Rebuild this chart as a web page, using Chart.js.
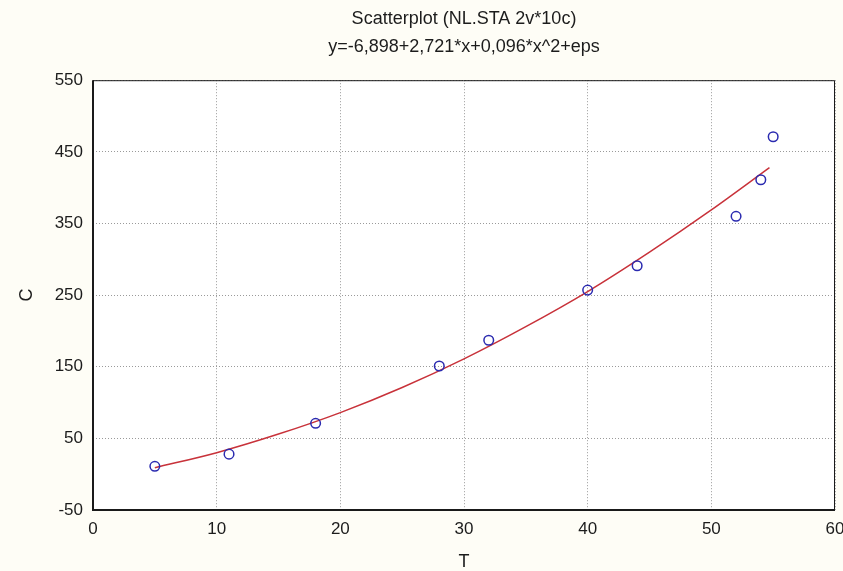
<!DOCTYPE html>
<html>
<head>
<meta charset="utf-8">
<script src="https://cdn.jsdelivr.net/npm/chart.js@4/dist/chart.umd.min.js"></script>
<style>
  html, body { margin: 0; padding: 0; background: #fefdf6; }
  #wrap { width: 843px; height: 571px; }
</style>
</head>
<body>
<div id="wrap"><canvas id="chart1" width="843" height="571"></canvas></div>
<script>
// donnees
const tValues = [5, 11, 18, 28, 32, 40, 44, 52, 54, 55];
const cValues = [11, 28, 71, 151, 187, 257, 291, 360, 411, 471];

// courbe ajustee
const fitT = [5, 10, 15, 20, 25, 30, 35, 40, 45, 50, 54.7];
const fitC = [9, 30, 56, 86, 121, 161, 206, 255, 310, 369, 428];

const xTicks = [0, 10, 20, 30, 40, 50, 60];
const yTicks = [-50, 50, 150, 250, 350, 450, 550];

const titleText = 'Scatterplot (NL.STA 2v*10c)';
const subtitleText = 'y=-6,898+2,721*x+0,096*x^2+eps';

function toPoints(xs, ys) {
  let data = [];
  for (let i = 0; i < xs.length; i++) {
    data.push({ x: xs[i], y: ys[i] });
  }
  return data;
}

const fontFamily = '"Liberation Sans", Arial, sans-serif';
const textColor = '#1c1c1c';

// fond creme + zone blanche + cadre
const framePlugin = {
  id: 'frame',
  beforeDraw(chart) {
    const ctx = chart.ctx;
    const a = chart.chartArea;
    ctx.save();
    ctx.fillStyle = '#fefdf6';
    ctx.fillRect(0, 0, chart.width, chart.height);
    ctx.fillStyle = '#ffffff';
    ctx.fillRect(a.left, a.top, a.right - a.left, a.bottom - a.top);
    ctx.restore();
  },
  afterDraw(chart) {
    const ctx = chart.ctx;
    const a = chart.chartArea;
    ctx.save();
    ctx.setLineDash([]);
    ctx.strokeStyle = '#1a1a1a';
    ctx.lineWidth = 1;
    ctx.beginPath();
    ctx.moveTo(a.left, a.top + 0.5);
    ctx.lineTo(a.right - 0.5, a.top + 0.5);
    ctx.lineTo(a.right - 0.5, a.bottom);
    ctx.stroke();
    ctx.lineWidth = 2;
    ctx.beginPath();
    ctx.moveTo(a.left, a.top);
    ctx.lineTo(a.left, a.bottom);
    ctx.lineTo(a.right, a.bottom);
    ctx.stroke();
    ctx.restore();
  }
};

let canvas1 = document.getElementById('chart1');

let myChart1 = new Chart(canvas1, {
  type: 'scatter',
  data: {
    datasets: [{
      label: 'C',
      data: toPoints(tValues, cValues),
      showLine: false,
      pointRadius: 4.8,
      pointBorderWidth: 1.5,
      pointBorderColor: '#2b2bb0',
      pointBackgroundColor: 'rgba(0,0,0,0)',
      order: 1
    }, {
      label: 'fit',
      data: toPoints(fitT, fitC),
      showLine: true,
      borderColor: '#c8323a',
      borderWidth: 1.5,
      pointRadius: 0,
      cubicInterpolationMode: 'monotone',
      fill: false,
      order: 2
    }]
  },
  options: {
    responsive: false,
    animation: false,
    events: [],
    layout: { padding: { left: 0, right: 0, top: 0, bottom: 0 } },
    plugins: {
      legend: { display: false },
      tooltip: { enabled: false },
      title: {
        display: true,
        fullSize: false,
        text: titleText,
        color: textColor,
        font: { family: fontFamily, size: 18, weight: 'normal', lineHeight: 1.2 },
        padding: { top: 8, bottom: 7 }
      },
      subtitle: {
        display: true,
        fullSize: false,
        text: subtitleText,
        color: textColor,
        font: { family: fontFamily, size: 18, weight: 'normal', lineHeight: 1.2 },
        padding: { top: 0, bottom: 22 }
      }
    },
    scales: {
      x: {
        type: 'linear',
        min: 0,
        max: 60,
        afterBuildTicks(scale) {
          scale.ticks = xTicks.map(v => ({ value: v }));
        },
        afterFit(scale) {
          scale.height = 61;
          scale.paddingRight = 8;
          scale.paddingLeft = 0;
        },
        ticks: {
          color: textColor,
          padding: 9,
          maxRotation: 0,
          font: { family: fontFamily, size: 17 }
        },
        grid: { color: '#9a9a9a', lineWidth: 1, drawTicks: false },
        border: { display: false, dash: [1, 2] },
        title: {
          display: true,
          text: 'T',
          color: textColor,
          font: { family: fontFamily, size: 18, lineHeight: 1 },
          padding: { top: 0, bottom: 0 }
        }
      },
      y: {
        type: 'linear',
        min: -50,
        max: 550,
        afterBuildTicks(scale) {
          scale.ticks = yTicks.map(v => ({ value: v }));
        },
        afterFit(scale) { scale.width = 93; },
        ticks: {
          color: textColor,
          padding: 10,
          font: { family: fontFamily, size: 17 }
        },
        grid: { color: '#9a9a9a', lineWidth: 1, drawTicks: false },
        border: { display: false, dash: [1, 2] },
        title: {
          display: true,
          text: 'C',
          color: textColor,
          font: { family: fontFamily, size: 18, lineHeight: 1.2 },
          padding: { top: 16, bottom: 0 }
        }
      }
    }
  },
  plugins: [framePlugin]
});
</script>
</body>
</html>
